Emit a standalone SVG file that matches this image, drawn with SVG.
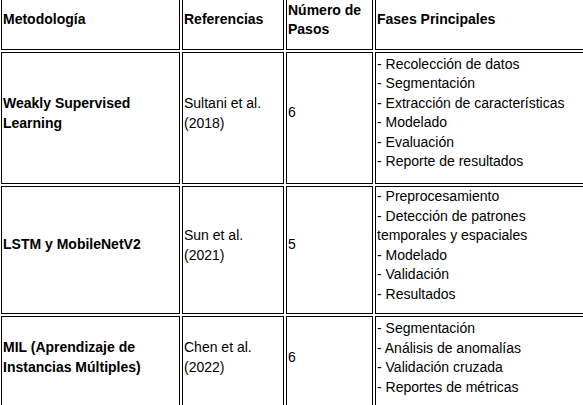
<svg xmlns="http://www.w3.org/2000/svg" width="583" height="405" viewBox="0 0 583 405">
<style>
.c{fill:#fff;stroke:#000;stroke-width:1.2;shape-rendering:crispEdges}
text{font-family:"Liberation Sans",Arial,sans-serif;font-size:14px;fill:#000}
.b{font-weight:bold}
</style>
<rect x="0" y="0" width="583" height="405" fill="#fff"/>
<g id="header">
<g id="h-metodologia"><rect class="c" x="1.5" y="-20.5" width="178" height="70"/><text class="b" x="3" y="24">Metodología</text></g>
<g id="h-referencias"><rect class="c" x="182.5" y="-20.5" width="101" height="70"/><text class="b" x="184" y="24">Referencias</text></g>
<g id="h-pasos"><rect class="c" x="286.5" y="-20.5" width="86" height="70"/><text class="b" x="288" y="14.5">Número de</text><text class="b" x="288" y="33.5">Pasos</text></g>
<g id="h-fases"><rect class="c" x="375.5" y="-20.5" width="230" height="70"/><text class="b" x="377" y="24">Fases Principales</text></g>
</g>
<g id="row-weakly">
<g id="r1-metodologia"><rect class="c" x="1.5" y="52.5" width="178" height="131"/><text class="b" x="3" y="108">Weakly Supervised</text><text class="b" x="3" y="127.5">Learning</text></g>
<g id="r1-referencias"><rect class="c" x="182.5" y="52.5" width="101" height="131"/><text x="184" y="108">Sultani et al.</text><text x="184" y="127.5">(2018)</text></g>
<g id="r1-pasos"><rect class="c" x="286.5" y="52.5" width="86" height="131"/><text x="288" y="117">6</text></g>
<g id="r1-fases"><rect class="c" x="375.5" y="52.5" width="230" height="131"/>
<text x="377" y="68.5">- Recolección de datos</text>
<text x="377" y="88">- Segmentación</text>
<text x="377" y="107.5">- Extracción de características</text>
<text x="377" y="127">- Modelado</text>
<text x="377" y="146.5">- Evaluación</text>
<text x="377" y="166">- Reporte de resultados</text></g>
</g>
<g id="row-lstm">
<g id="r2-metodologia"><rect class="c" x="1.5" y="186.5" width="178" height="127"/><text class="b" x="3" y="249">LSTM y MobileNetV2</text></g>
<g id="r2-referencias"><rect class="c" x="182.5" y="186.5" width="101" height="127"/><text x="184" y="240">Sun et al.</text><text x="184" y="259.5">(2021)</text></g>
<g id="r2-pasos"><rect class="c" x="286.5" y="186.5" width="86" height="127"/><text x="288" y="249">5</text></g>
<g id="r2-fases"><rect class="c" x="375.5" y="186.5" width="230" height="127"/>
<text x="377" y="201">- Preprocesamiento</text>
<text x="377" y="220.5">- Detección de patrones</text>
<text x="377" y="240">temporales y espaciales</text>
<text x="377" y="259.5">- Modelado</text>
<text x="377" y="279">- Validación</text>
<text x="377" y="298.5">- Resultados</text></g>
</g>
<g id="row-mil">
<g id="r3-metodologia"><rect class="c" x="1.5" y="316.5" width="178" height="110"/><text class="b" x="3" y="352">MIL (Aprendizaje de</text><text class="b" x="3" y="371.5">Instancias Múltiples)</text></g>
<g id="r3-referencias"><rect class="c" x="182.5" y="316.5" width="101" height="110"/><text x="184" y="352">Chen et al.</text><text x="184" y="371.5">(2022)</text></g>
<g id="r3-pasos"><rect class="c" x="286.5" y="316.5" width="86" height="110"/><text x="288" y="362">6</text></g>
<g id="r3-fases"><rect class="c" x="375.5" y="316.5" width="230" height="110"/>
<text x="377" y="333">- Segmentación</text>
<text x="377" y="352.5">- Análisis de anomalías</text>
<text x="377" y="372">- Validación cruzada</text>
<text x="377" y="391.5">- Reportes de métricas</text></g>
</g>
<g id="connectors"/>
</svg>
